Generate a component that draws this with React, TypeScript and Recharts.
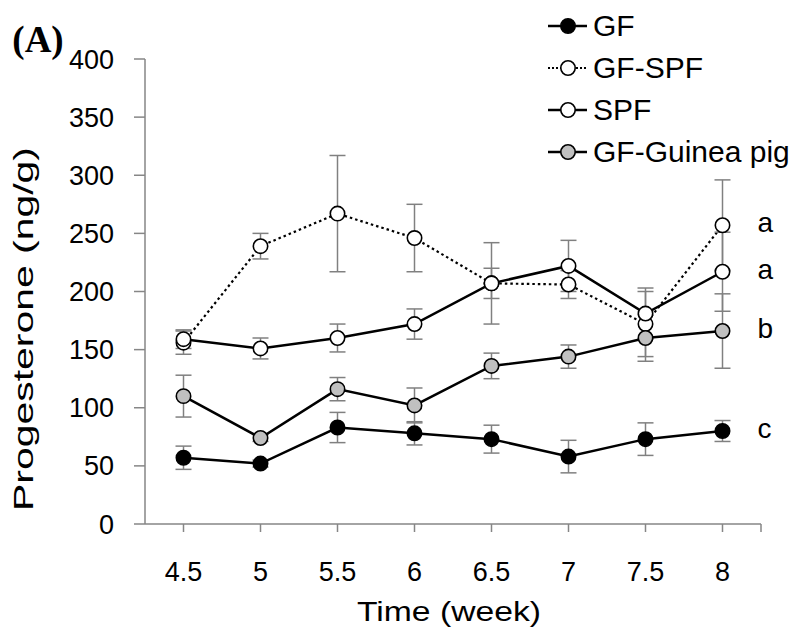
import {
  LineChart,
  Line,
  XAxis,
  YAxis,
  ErrorBar,
  LabelList,
} from "recharts";

// weeks on the x axis
const weeks = [4.5, 5, 5.5, 6, 6.5, 7, 7.5, 8];
const xTicks = [4.5, 5, 5.5, 6, 6.5, 7, 7.5, 8, 8.25];
const yTicks = [0, 50, 100, 150, 200, 250, 300, 350, 400];

// progesterone (ng/g), mean and error
const gf = [57, 52, 83, 78, 73, 58, 73, 80];
const gfErr = [10, 3, 13, 10, 12, 14, 14, 9];
const gfSpf = [156, 239, 267, 246, 207, 206, 172, 257];
const gfSpfErr = [10, 11, 50, 29, 35, 12, 28, 39];
const spf = [159, 151, 160, 172, 207, 222, 181, 217];
const spfErr = [8, 9, 12, 13, 13, 22, 22, 34];
const guinea = [110, 74, 116, 102, 136, 144, 160, 166];
const guineaErr = [18, 3, 10, 15, 11, 10, 20, 32];

const seriesNames = ["GF", "GF-SPF", "SPF", "GF-Guinea pig"];
const groupLetters = ["c", "a", "a", "b"];

const data = weeks.map((w, i) => ({
  week: w,
  gf: gf[i],
  gfErr: gfErr[i],
  gfSpf: gfSpf[i],
  gfSpfErr: gfSpfErr[i],
  spf: spf[i],
  spfErr: spfErr[i],
  guinea: guinea[i],
  guineaErr: guineaErr[i],
}));

const SERIES = [
  { key: "gf", err: "gfErr", fill: "#000000", dashed: false },
  { key: "gfSpf", err: "gfSpfErr", fill: "#ffffff", dashed: true },
  { key: "spf", err: "spfErr", fill: "#ffffff", dashed: false },
  { key: "guinea", err: "guineaErr", fill: "#c0c0c0", dashed: false },
];

const FONT = "'Liberation Sans', Arial, sans-serif";
const AXIS_GRAY = "#868686";

const makeDot = (fill: string) => (props: any) => {
  const { cx, cy, index } = props;
  if (cx == null || cy == null) return <g key={`d-${index}`} />;
  return (
    <circle
      key={`d-${index}`}
      cx={cx}
      cy={cy}
      r={7.2}
      fill={fill}
      stroke="#000"
      strokeWidth={1.6}
    />
  );
};

const makeLetter = (letter: string) => (props: any) => {
  const { x, y, index } = props;
  if (index !== weeks.length - 1) return null;
  return (
    <text x={x + 35} y={y + 7} fontSize={28} fontFamily={FONT} fill="#000">
      {letter}
    </text>
  );
};

export default function App() {
  return (
    <div
      style={{
        position: "absolute",
        left: 0,
        top: 0,
        width: 800,
        height: 633,
        background: "#fff",
      }}
    >
      <LineChart
        width={800}
        height={633}
        data={data}
        margin={{ top: 59, right: 39, bottom: 29, left: 65 }}
      >
        <XAxis
          dataKey="week"
          type="number"
          domain={[4.25, 8.25]}
          ticks={xTicks}
          tickFormatter={(v: number) => (v > 8 ? "" : String(v))}
          stroke={AXIS_GRAY}
          strokeWidth={1.5}
          tickSize={8}
          tickMargin={30}
          height={80}
          tick={{ fill: "#000", fontSize: 27, fontFamily: FONT }}
          interval={0}
        />
        <YAxis
          domain={[0, 400]}
          ticks={yTicks}
          stroke={AXIS_GRAY}
          strokeWidth={1.5}
          tickSize={11}
          tickMargin={20}
          width={80}
          tick={{ fill: "#000", fontSize: 27, fontFamily: FONT }}
          interval={0}
        />
        {SERIES.map((s, i) => (
          <Line
            key={s.key}
            dataKey={s.key}
            name={seriesNames[i]}
            stroke="#000"
            strokeWidth={s.dashed ? 2.2 : 2.5}
            strokeDasharray={s.dashed ? "2.5 3" : undefined}
            dot={makeDot(s.fill)}
            activeDot={false}
            isAnimationActive={false}
          >
            <ErrorBar
              dataKey={s.err}
              direction="y"
              width={8}
              stroke="#808080"
              strokeWidth={1.5}
            />
            <LabelList dataKey={s.key} content={makeLetter(groupLetters[i])} />
          </Line>
        ))}
      </LineChart>
      <svg
        width={800}
        height={633}
        style={{ position: "absolute", left: 0, top: 0, pointerEvents: "none" }}
      >
        {SERIES.map((s, i) => {
          const cy = 26 + i * 42;
          return (
            <g key={s.key}>
              <line
                x1={548}
                x2={587}
                y1={cy}
                y2={cy}
                stroke="#000"
                strokeWidth={s.dashed ? 2 : 2.5}
                strokeDasharray={s.dashed ? "2 2" : undefined}
              />
              <circle cx={568} cy={cy} r={7.2} fill={s.fill} stroke="#000" strokeWidth={1.6} />
              <text x={593} y={cy + 10} fontSize={30} fontFamily={FONT} fill="#000">
                {seriesNames[i]}
              </text>
            </g>
          );
        })}
        <text
          x={38}
          y={52}
          textAnchor="middle"
          fontSize={37}
          fontWeight="bold"
          fontFamily="'Liberation Serif', 'Times New Roman', serif"
          fill="#000"
        >
          (A)
        </text>
        <text
          transform="translate(33,329) rotate(-90)"
          textAnchor="middle"
          fontSize={28}
          fontFamily={FONT}
          fill="#000"
          textLength={364}
          lengthAdjust="spacingAndGlyphs"
        >
          Progesterone (ng/g)
        </text>
        <text
          x={449}
          y={621}
          textAnchor="middle"
          fontSize={27}
          fontFamily={FONT}
          fill="#000"
          textLength={184}
          lengthAdjust="spacingAndGlyphs"
        >
          Time (week)
        </text>
      </svg>
    </div>
  );
}
